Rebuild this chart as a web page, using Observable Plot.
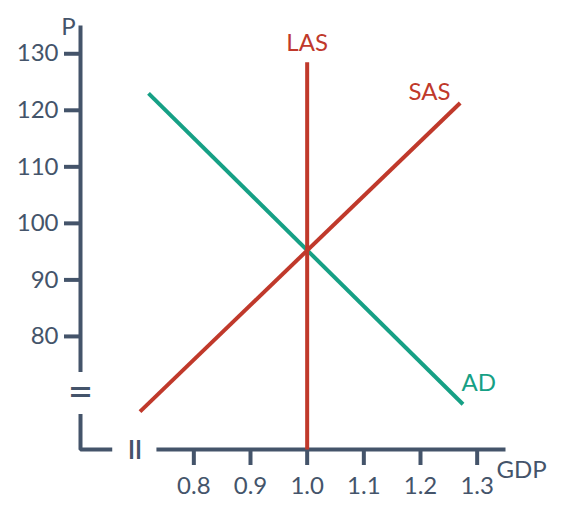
<!DOCTYPE html>
<html>
<head>
<meta charset="utf-8">
<script src="https://cdn.jsdelivr.net/npm/d3@7"></script>
<script src="https://cdn.jsdelivr.net/npm/@observablehq/plot@0.6"></script>
<style>
  body { margin: 0; background: #fff; }
</style>
</head>
<body>
<div id="chart"></div>
<script>
// curvas (GDP, P)
const adX = [0.72, 1.275];
const adY = [123, 68];
const sasX = [0.705, 1.27];
const sasY = [66.7, 121.3];
const lasX = [1.0, 1.0];
const lasY = [60, 128.5];

const xTicks = [0.8, 0.9, 1.0, 1.1, 1.2, 1.3];
const yTicks = [80, 90, 100, 110, 120, 130];

// tramos del eje con corte
const ejeSegs = [
  {s: "y", x: 0.6, y: 135}, {s: "y", x: 0.6, y: 73.7},
  {s: "L", x: 0.6, y: 66.3}, {s: "L", x: 0.6, y: 60}, {s: "L", x: 0.656, y: 60},
  {s: "x", x: 0.734, y: 60}, {s: "x", x: 1.35, y: 60}
];

const rojo = "#c0392b";
const verde = "#16a085";
const gris = "#44546a";
const fuente = "Lato, sans-serif";

const toPts = (xs, ys) => xs.map((x, i) => ({x, y: ys[i]}));

const chart = Plot.plot({
  width: 561,
  height: 520,
  marginLeft: 80,
  marginTop: 25,
  marginBottom: 71,
  marginRight: 56,
  style: {fontFamily: fuente, color: gris, background: "#fff", overflow: "visible"},
  x: {domain: [0.6, 1.35]},
  y: {domain: [60, 135]},
  marks: [
    Plot.line(ejeSegs, {x: "x", y: "y", z: "s", stroke: gris, strokeWidth: 4, strokeLinecap: "butt", strokeLinejoin: "miter"}),
    Plot.text(["="], {x: 0.6, y: 70, text: d => d, fontSize: 44, fill: gris, fontFamily: fuente}),
    Plot.text(["="], {x: 0.695, y: 60, text: d => d, rotate: 90, fontSize: 44, fill: gris, fontFamily: fuente}),
    Plot.axisY({ticks: yTicks, tickSize: 16, tickPadding: 6, strokeWidth: 4, stroke: gris, fill: gris, fontSize: 24, label: null}),
    Plot.axisX({ticks: xTicks, tickSize: 16, tickPadding: 11, strokeWidth: 4, stroke: gris, fill: gris, fontSize: 24, label: null, tickFormat: d3.format(".1f")}),
    Plot.line(toPts(adX, adY), {x: "x", y: "y", stroke: verde, strokeWidth: 4, strokeLinecap: "butt"}),
    Plot.line(toPts(sasX, sasY), {x: "x", y: "y", stroke: rojo, strokeWidth: 4, strokeLinecap: "butt"}),
    Plot.line(toPts(lasX, lasY), {x: "x", y: "y", stroke: rojo, strokeWidth: 4, strokeLinecap: "butt"}),
    Plot.text(["LAS"], {x: 1.0, y: 132, dy: 1, text: d => d, fill: rojo, fontSize: 24}),
    Plot.text(["SAS"], {x: 1.216, y: 123.2, text: d => d, fill: rojo, fontSize: 24}),
    Plot.text(["AD"], {x: 1.303, y: 71.8, dy: 1, text: d => d, fill: verde, fontSize: 24}),
    Plot.text(["P"], {x: 0.6, y: 135, dx: -12, dy: 2, text: d => d, fill: gris, fontSize: 24}),
    Plot.text(["GDP"], {x: 1.35, y: 60, dx: 16, dy: 21, text: d => d, fill: gris, fontSize: 24, textAnchor: "middle"})
  ]
});

document.getElementById("chart").append(chart);
</script>
</body>
</html>
